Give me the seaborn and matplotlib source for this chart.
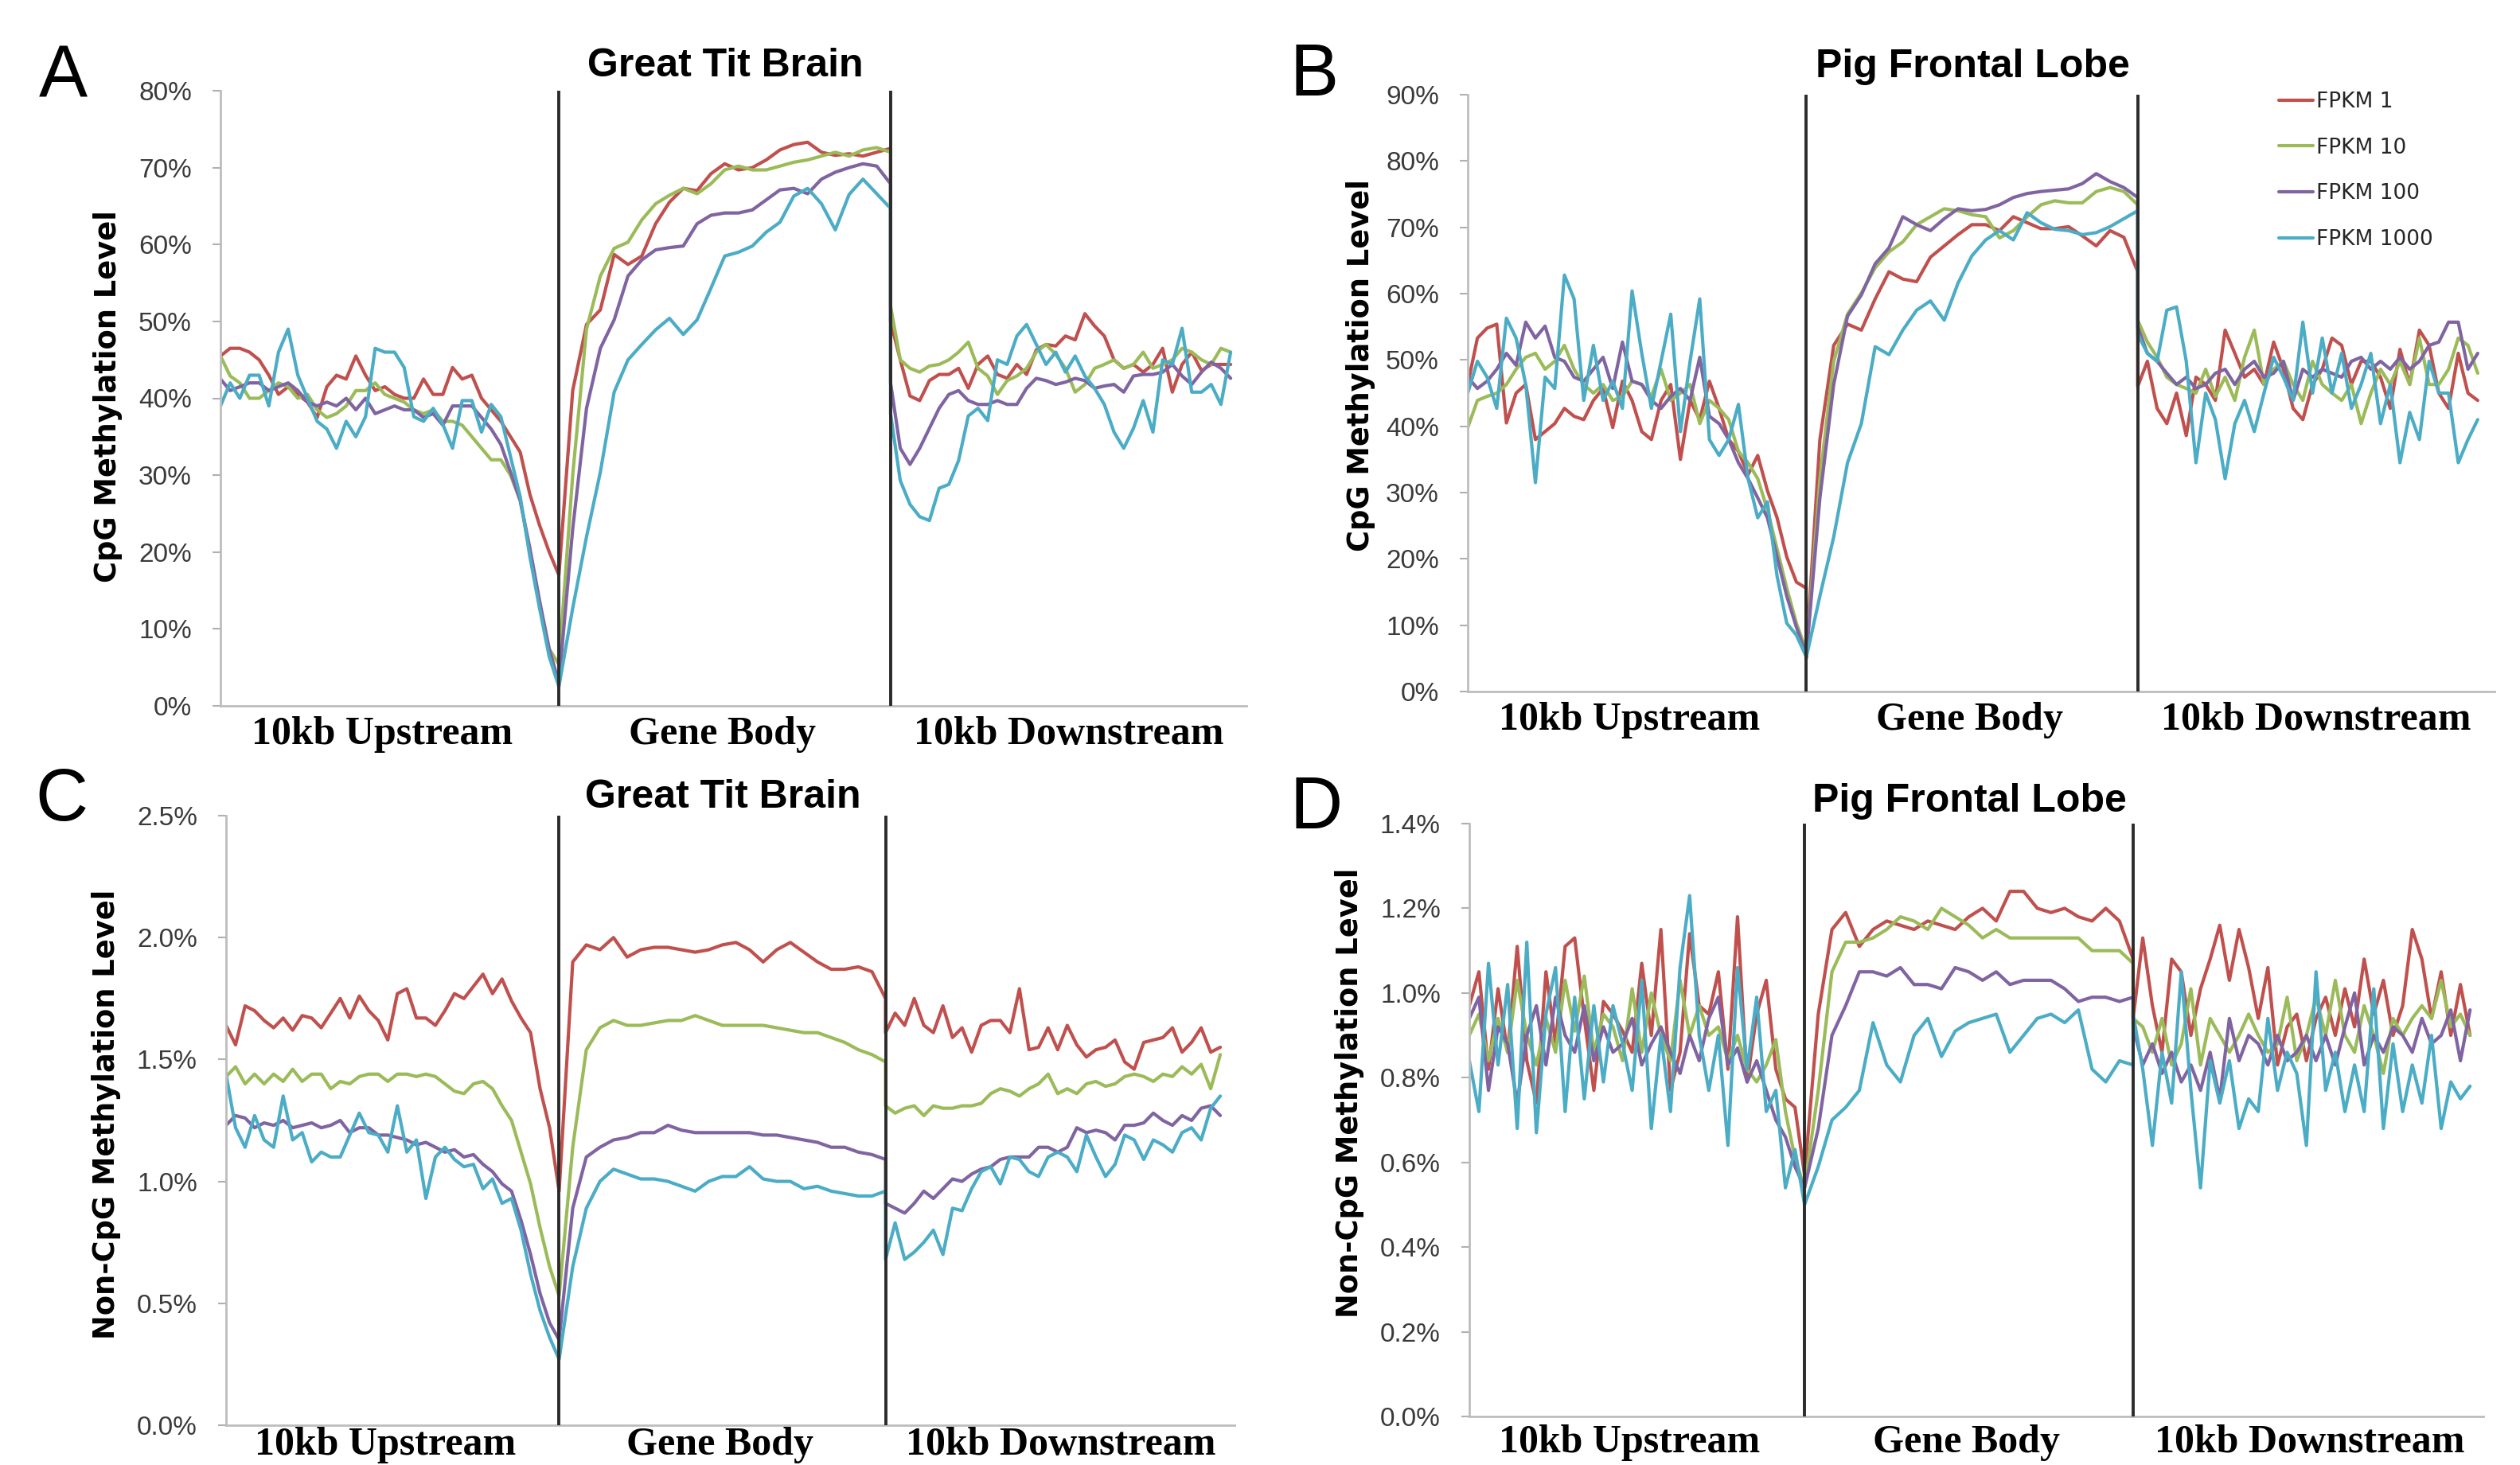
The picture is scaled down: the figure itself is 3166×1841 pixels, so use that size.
import numpy as np
import pandas as pd
import matplotlib
matplotlib.use("Agg")
import matplotlib.pyplot as plt
import matplotlib.transforms as mtransforms
from matplotlib.lines import Line2D
from matplotlib.ticker import FuncFormatter
import seaborn as sns

sns.set_style("white")
plt.rcParams['font.family'] = ['Liberation Sans', 'DejaVu Sans']

# ---------------- data ----------------
SERIES = ['FPKM 1', 'FPKM 10', 'FPKM 100', 'FPKM 1000']
COLORS = ['#C0504D', '#9BBB59', '#8064A2', '#4BACC6']
REGIONS = ['10kb Upstream', 'Gene Body', '10kb Downstream']

# Panel A: Great Tit Brain, CpG (%)
a_up_r = [45.5, 46.5, 46.5, 46, 45, 43, 40.5, 41.5, 40.5, 39.5, 37.5, 41.5, 43, 42.5, 45.5, 43, 41, 41.5, 40.5, 40, 40, 42.5, 40.5, 40.5, 44, 42.5, 43, 40, 38.5, 37, 35, 33, 27.5, 23.5, 20, 17]
a_up_g = [45.5, 42.9, 42, 40, 40, 41, 42, 41.5, 40, 40.5, 38.5, 37.5, 38, 39, 41, 41, 42, 40.5, 40, 39.5, 38.5, 38, 38.5, 37, 37, 36.5, 35, 33.5, 32, 32, 30, 26.7, 20, 13, 7.4, 5.4]
a_up_p = [42.5, 41, 41.5, 42, 42, 41, 41.5, 42, 41, 39.5, 39, 39.5, 39, 40, 38.5, 40, 38, 38.5, 39, 38.5, 38.5, 37.5, 38, 36.5, 39, 39, 39, 37.5, 36, 34, 30.4, 26.7, 20.5, 13.7, 7.4, 3]
a_up_c = [39, 42, 40, 43, 43, 39, 46, 49, 43, 40, 37, 36, 33.5, 37, 35, 37.6, 46.5, 46, 46, 44, 37.6, 37, 38.7, 36.6, 33.5, 39.7, 39.7, 35.6, 39.2, 37.6, 32.4, 27.2, 19.4, 12.7, 6.4, 2.5]
a_body_r = [17, 41, 49.6, 51.5, 58.7, 57.4, 58.5, 62.7, 65.5, 67.3, 67, 69.2, 70.5, 69.7, 70, 71, 72.3, 73, 73.3, 72, 71.6, 71.8, 71.5, 72, 72.5]
a_body_g = [5.4, 30, 49, 55.9, 59.5, 60.3, 63.2, 65.3, 66.4, 67.3, 66.6, 67.9, 69.7, 70.2, 69.7, 69.7, 70.2, 70.7, 71, 71.5, 72, 71.5, 72.3, 72.6, 72]
a_body_p = [3, 23, 38.7, 46.5, 50.2, 55.9, 58, 59.3, 59.6, 59.8, 62.7, 63.8, 64.1, 64.1, 64.5, 65.8, 67.1, 67.3, 66.6, 68.5, 69.4, 70, 70.5, 70.2, 67.9]
a_body_c = [2.5, 12.7, 22, 30.4, 40.8, 45, 47, 48.9, 50.4, 48.3, 50.2, 54.3, 58.5, 59, 59.8, 61.6, 62.9, 66.3, 67.3, 65.3, 61.9, 66.5, 68.5, 66.6, 64.7]
a_down_r = [50, 45, 40.3, 39.7, 42.3, 43.1, 43.1, 43.9, 41.3, 44.4, 45.5, 43.1, 42.6, 44.4, 43.1, 46.3, 47, 46.8, 48.1, 47.6, 51, 49.4, 48.1, 45, 43.9, 44.4, 43.4, 44.4, 46.5, 40.8, 44.4, 46, 43.6, 44.4, 44.4, 44.4]
a_down_g = [52, 45, 43.9, 43.4, 44.2, 44.4, 45, 46, 47.3, 43.9, 42.9, 40.5, 42.3, 42.9, 43.9, 46, 47, 45.7, 43.9, 40.8, 41.8, 43.9, 44.4, 45, 43.9, 44.4, 46, 43.9, 44.4, 45, 46.5, 46, 45, 44.4, 46.5, 46]
a_down_p = [42, 33.5, 31.4, 33.5, 36.1, 38.7, 40.5, 41, 39.7, 39.2, 39.2, 39.7, 39.2, 39.2, 41.3, 42.6, 42.3, 41.8, 42.1, 42.6, 42.3, 41.3, 41.6, 41.8, 40.8, 42.9, 43.1, 43.1, 43.4, 44.4, 42.9, 41.8, 43.4, 44.7, 43.9, 42.6]
a_down_c = [38, 29.3, 26.2, 24.6, 24.1, 28.3, 28.8, 31.9, 37.7, 38.7, 37.1, 45, 44.4, 48.1, 49.6, 47, 44.4, 46, 43.4, 45.5, 42.9, 41.3, 39.2, 35.6, 33.5, 36.1, 39.7, 35.6, 45, 44.4, 49.1, 40.8, 40.8, 41.8, 39.2, 46]

# Panel B: Pig Frontal Lobe, CpG (%)
b_up_r = [46.3, 53.3, 54.8, 55.4, 40.5, 45, 46.3, 38, 39.2, 40.4, 42.7, 41.5, 41, 43.9, 45.7, 39.8, 46.8, 43.9, 39.2, 38, 43.9, 46.3, 35, 43.9, 41, 46.8, 42.7, 38, 36.2, 32.7, 35.6, 30.3, 26.2, 20.3, 16.5, 15.6]
b_up_g = [39.8, 43.9, 44.5, 45, 46.3, 48.6, 50.4, 51, 48.6, 49.8, 52.2, 48.6, 46.3, 45, 46.3, 43.9, 44.5, 46.8, 46.3, 44.5, 48.6, 43.9, 45, 46.3, 40.4, 43.9, 42.7, 41, 36.2, 34.5, 32.1, 27.4, 21.5, 15.6, 10.3, 6.2]
b_up_p = [47.4, 45.7, 46.8, 48.6, 51, 49.2, 55.7, 53.3, 55.1, 50.4, 49.8, 47.4, 46.8, 48.6, 50.4, 45.7, 52.7, 46.8, 46.3, 43.9, 42.7, 44.5, 45.7, 43.9, 50.4, 41.5, 40.4, 38, 34.5, 32.1, 29.2, 26.2, 20.3, 14.4, 9.7, 5.6]
b_up_c = [45, 49.8, 47.4, 42.7, 56.3, 53.3, 46.3, 31.5, 47.4, 45.7, 62.8, 59.2, 43.9, 52.2, 43.9, 46.8, 42.7, 60.4, 51, 42.7, 49.8, 56.9, 39.2, 49.8, 59.2, 38, 35.6, 38, 43.3, 32.1, 26.2, 28.6, 17.4, 10.3, 8.5, 5.3]
b_body_r = [5, 38, 52.2, 55.4, 54.5, 59.2, 63.3, 62.2, 61.8, 65.5, 67.2, 68.9, 70.4, 70.4, 69.5, 71.6, 70.7, 69.8, 69.8, 70.1, 68.7, 67.2, 69.5, 68.5, 63.3]
b_body_g = [5, 32.1, 49.8, 56.9, 60.1, 63.9, 66.3, 67.8, 70.4, 71.6, 72.8, 72.5, 71.9, 71.6, 68.4, 69.5, 71.6, 73.4, 74, 73.7, 73.7, 75.4, 76, 75.4, 73.4]
b_body_p = [5, 29.2, 46.3, 56.6, 59.8, 64.5, 66.9, 71.6, 70.4, 69.5, 71.3, 72.8, 72.5, 72.7, 73.4, 74.5, 75.1, 75.4, 75.6, 75.8, 76.6, 78.1, 76.9, 76, 74.5]
b_body_c = [5, 14.4, 23.3, 34.5, 40.4, 52, 50.8, 54.5, 57.5, 58.9, 56, 61.6, 65.7, 68.1, 69.5, 68.1, 72.2, 70.7, 69.7, 69.5, 68.9, 69.2, 70.1, 71.3, 72.5]
b_down_r = [46, 49.8, 42.7, 40.4, 45, 38.6, 47.4, 46.3, 43.9, 54.5, 51, 47.4, 48.6, 46.3, 52.7, 48.6, 42.7, 41, 46.3, 48.6, 53.3, 52.2, 46.3, 49.8, 49.8, 47.4, 42.7, 51.6, 46.3, 54.5, 52.2, 45, 42.7, 51, 45, 43.9]
b_down_g = [56, 52.7, 50.4, 47.4, 46.3, 45.7, 45, 48.6, 44.5, 47.4, 43.9, 50.4, 54.5, 46.3, 48.6, 49.8, 46.3, 43.9, 49.8, 46.3, 45, 43.9, 46.3, 40.4, 45, 48.6, 46.3, 49.8, 46.3, 53.3, 46.3, 46.3, 48.6, 53.3, 52.2, 48]
b_down_p = [55, 51, 49.8, 48, 46.3, 47.4, 45.7, 46.3, 48, 48.6, 46.3, 48.6, 49.8, 47.4, 48, 49.8, 43.9, 48.6, 47.4, 48.6, 48, 47.4, 49.8, 50.4, 48.6, 49.8, 48.6, 50.4, 48.6, 49.8, 52.2, 52.7, 55.7, 55.7, 48.6, 51]
b_down_c = [53.9, 51, 49.8, 57.5, 58, 49.8, 34.5, 45, 41, 32.1, 40.4, 43.9, 39.2, 45, 50.4, 47.4, 43.9, 55.7, 45, 53.3, 45, 51, 42.7, 46.3, 51, 40.4, 46.3, 34.5, 42.1, 38, 49.8, 45, 45, 34.5, 38, 41]

# Panel C: Great Tit Brain, non-CpG (%)
c_up_r = [1.64, 1.56, 1.72, 1.70, 1.66, 1.63, 1.67, 1.62, 1.68, 1.67, 1.63, 1.69, 1.75, 1.67, 1.76, 1.70, 1.66, 1.58, 1.77, 1.79, 1.67, 1.67, 1.64, 1.70, 1.77, 1.75, 1.80, 1.85, 1.77, 1.83, 1.74, 1.67, 1.61, 1.38, 1.22, 0.96]
c_up_g = [1.43, 1.47, 1.40, 1.44, 1.40, 1.44, 1.41, 1.46, 1.41, 1.44, 1.44, 1.38, 1.41, 1.40, 1.43, 1.44, 1.44, 1.41, 1.44, 1.44, 1.43, 1.44, 1.43, 1.40, 1.37, 1.36, 1.40, 1.41, 1.38, 1.31, 1.25, 1.12, 0.99, 0.81, 0.65, 0.53]
c_up_p = [1.23, 1.27, 1.26, 1.22, 1.24, 1.23, 1.25, 1.22, 1.23, 1.24, 1.22, 1.23, 1.25, 1.20, 1.22, 1.22, 1.19, 1.19, 1.18, 1.17, 1.15, 1.16, 1.14, 1.12, 1.13, 1.10, 1.11, 1.07, 1.04, 0.99, 0.96, 0.84, 0.70, 0.54, 0.42, 0.35]
c_up_c = [1.44, 1.22, 1.14, 1.27, 1.17, 1.14, 1.35, 1.17, 1.20, 1.08, 1.12, 1.10, 1.10, 1.19, 1.28, 1.20, 1.19, 1.12, 1.31, 1.12, 1.17, 0.93, 1.10, 1.14, 1.09, 1.06, 1.07, 0.97, 1.01, 0.91, 0.93, 0.80, 0.62, 0.47, 0.36, 0.27]
c_body_r = [0.96, 1.90, 1.97, 1.95, 2.00, 1.92, 1.95, 1.96, 1.96, 1.95, 1.94, 1.95, 1.97, 1.98, 1.95, 1.90, 1.95, 1.98, 1.94, 1.90, 1.87, 1.87, 1.88, 1.86, 1.75]
c_body_g = [0.53, 1.14, 1.54, 1.63, 1.66, 1.64, 1.64, 1.65, 1.66, 1.66, 1.68, 1.66, 1.64, 1.64, 1.64, 1.64, 1.63, 1.62, 1.61, 1.61, 1.59, 1.57, 1.54, 1.52, 1.49]
c_body_p = [0.35, 0.89, 1.10, 1.14, 1.17, 1.18, 1.20, 1.20, 1.23, 1.21, 1.20, 1.20, 1.20, 1.20, 1.20, 1.19, 1.19, 1.18, 1.17, 1.16, 1.14, 1.14, 1.12, 1.11, 1.09]
c_body_c = [0.27, 0.65, 0.89, 1.00, 1.05, 1.03, 1.01, 1.01, 1.00, 0.98, 0.96, 1.00, 1.02, 1.02, 1.06, 1.01, 1.00, 1.00, 0.97, 0.98, 0.96, 0.95, 0.94, 0.94, 0.96]
c_down_r = [1.61, 1.69, 1.64, 1.75, 1.64, 1.61, 1.72, 1.59, 1.63, 1.53, 1.64, 1.66, 1.66, 1.61, 1.79, 1.54, 1.55, 1.63, 1.54, 1.64, 1.56, 1.51, 1.54, 1.55, 1.58, 1.49, 1.46, 1.57, 1.58, 1.59, 1.63, 1.53, 1.57, 1.63, 1.53, 1.55]
c_down_g = [1.31, 1.28, 1.30, 1.31, 1.27, 1.31, 1.30, 1.30, 1.31, 1.31, 1.32, 1.36, 1.38, 1.37, 1.35, 1.38, 1.40, 1.44, 1.36, 1.38, 1.36, 1.40, 1.41, 1.39, 1.40, 1.43, 1.44, 1.43, 1.41, 1.44, 1.43, 1.47, 1.44, 1.48, 1.38, 1.52]
c_down_p = [0.91, 0.89, 0.87, 0.91, 0.96, 0.93, 0.97, 1.01, 1.00, 1.03, 1.05, 1.06, 1.09, 1.10, 1.10, 1.10, 1.14, 1.14, 1.12, 1.14, 1.22, 1.20, 1.21, 1.20, 1.17, 1.23, 1.23, 1.24, 1.28, 1.25, 1.23, 1.27, 1.25, 1.30, 1.31, 1.27]
c_down_c = [0.68, 0.83, 0.68, 0.71, 0.75, 0.80, 0.70, 0.89, 0.88, 0.97, 1.04, 1.06, 0.99, 1.10, 1.09, 1.04, 1.02, 1.10, 1.12, 1.10, 1.04, 1.19, 1.10, 1.02, 1.07, 1.19, 1.17, 1.09, 1.17, 1.15, 1.12, 1.20, 1.22, 1.17, 1.30, 1.35]

# Panel D: Pig Frontal Lobe, non-CpG (%)
d_up_r = [0.97, 1.05, 0.82, 1.01, 0.86, 1.11, 0.84, 0.74, 1.05, 0.88, 1.11, 1.13, 0.94, 0.77, 0.98, 0.95, 0.91, 0.86, 1.07, 0.90, 1.15, 0.77, 0.86, 1.14, 0.97, 0.95, 1.05, 0.82, 1.18, 0.79, 0.95, 1.03, 0.82, 0.75, 0.73, 0.57]
d_up_g = [0.90, 0.95, 0.84, 0.94, 0.86, 1.03, 0.90, 0.83, 0.94, 0.86, 1.03, 0.91, 1.04, 0.86, 0.95, 0.92, 0.84, 1.01, 0.86, 1.00, 0.90, 0.84, 1.03, 0.90, 0.97, 0.90, 0.92, 0.84, 0.90, 0.82, 0.79, 0.83, 0.89, 0.72, 0.61, 0.54]
d_up_p = [0.94, 0.99, 0.77, 0.92, 0.88, 0.74, 0.90, 0.97, 0.83, 0.99, 0.90, 0.86, 0.97, 0.84, 0.92, 0.86, 0.88, 0.94, 0.83, 0.88, 0.92, 0.86, 0.81, 0.90, 0.84, 0.94, 0.99, 0.83, 0.87, 0.79, 0.84, 0.77, 0.70, 0.66, 0.59, 0.54]
d_up_c = [0.84, 0.72, 1.07, 0.83, 1.02, 0.68, 1.12, 0.67, 0.95, 1.06, 0.72, 0.99, 0.75, 0.97, 0.79, 0.97, 0.88, 0.77, 1.03, 0.68, 0.90, 0.72, 1.06, 1.23, 0.90, 0.77, 0.90, 0.64, 1.06, 0.82, 0.99, 0.72, 0.77, 0.54, 0.63, 0.50]
d_body_r = [0.57, 0.95, 1.15, 1.19, 1.11, 1.15, 1.17, 1.16, 1.15, 1.17, 1.16, 1.15, 1.18, 1.20, 1.17, 1.24, 1.24, 1.20, 1.19, 1.20, 1.18, 1.17, 1.20, 1.17, 1.08]
d_body_g = [0.54, 0.77, 1.05, 1.12, 1.12, 1.13, 1.15, 1.18, 1.17, 1.15, 1.20, 1.18, 1.16, 1.13, 1.15, 1.13, 1.13, 1.13, 1.13, 1.13, 1.13, 1.10, 1.10, 1.10, 1.07]
d_body_p = [0.54, 0.68, 0.90, 0.97, 1.05, 1.05, 1.04, 1.06, 1.02, 1.02, 1.01, 1.06, 1.05, 1.03, 1.05, 1.02, 1.03, 1.03, 1.03, 1.01, 0.98, 0.99, 0.99, 0.98, 0.99]
d_body_c = [0.50, 0.59, 0.70, 0.73, 0.77, 0.93, 0.83, 0.79, 0.90, 0.94, 0.85, 0.91, 0.93, 0.94, 0.95, 0.86, 0.90, 0.94, 0.95, 0.93, 0.96, 0.82, 0.79, 0.84, 0.83]
d_down_r = [0.94, 1.13, 0.97, 0.86, 1.08, 1.05, 0.90, 1.01, 1.08, 1.16, 1.03, 1.15, 1.06, 0.94, 1.06, 0.83, 0.92, 0.95, 0.84, 0.94, 0.99, 0.90, 1.01, 0.92, 1.08, 0.95, 1.03, 0.90, 0.97, 1.15, 1.08, 0.94, 1.05, 0.90, 1.02, 0.90]
d_down_g = [0.94, 0.92, 0.86, 0.94, 0.83, 0.88, 1.01, 0.83, 0.94, 0.90, 0.86, 0.90, 0.95, 0.90, 0.86, 0.88, 0.99, 0.84, 0.90, 0.99, 0.90, 1.03, 0.90, 0.86, 0.97, 0.90, 0.81, 0.94, 0.90, 0.94, 0.97, 0.94, 1.03, 0.92, 0.95, 0.90]
d_down_p = [0.92, 0.83, 0.88, 0.81, 0.86, 0.79, 0.83, 0.77, 0.86, 0.75, 0.94, 0.84, 0.90, 0.88, 0.83, 0.90, 0.84, 0.86, 0.90, 0.84, 0.90, 0.83, 0.92, 1.00, 0.83, 0.90, 0.86, 0.92, 0.90, 0.86, 0.94, 0.88, 0.90, 0.96, 0.84, 0.96]
d_down_c = [0.95, 0.82, 0.64, 0.86, 0.74, 1.05, 0.77, 0.54, 0.84, 0.74, 0.84, 0.68, 0.75, 0.72, 0.94, 0.77, 0.86, 0.81, 0.64, 1.05, 0.77, 0.86, 0.72, 0.83, 0.72, 1.01, 0.68, 0.88, 0.72, 0.83, 0.74, 0.90, 0.68, 0.79, 0.75, 0.78]

# ---------------- layout ----------------
W, H = 3166, 1841
TSS, TES, END = 100.5, 199.0, 300.0

panels = [
    dict(letter='A', title='Great Tit Brain', ylabel='CpG Methylation Level',
         box=(277, 114, 1566, 887), xmax=304.7, ymax=80, step=10, fmt='{:.0f}%',
         up=[a_up_r, a_up_g, a_up_p, a_up_c], body=[a_body_r, a_body_g, a_body_p, a_body_c],
         down=[a_down_r, a_down_g, a_down_p, a_down_c], xpad=9,
         title_y=1.023, letter_xy=(49, 123), ylab_xy=(136, 498)),
    dict(letter='B', title='Pig Frontal Lobe', ylabel='CpG Methylation Level',
         box=(1844, 119, 3134, 869), xmax=305.0, ymax=90, step=10, fmt='{:.0f}%',
         up=[b_up_r, b_up_g, b_up_p, b_up_c], body=[b_body_r, b_body_g, b_body_p, b_body_c],
         down=[b_down_r, b_down_g, b_down_p, b_down_c], xpad=9,
         title_y=1.029, letter_xy=(1621, 120), ylab_xy=(1710, 459)),
    dict(letter='C', title='Great Tit Brain', ylabel='Non-CpG Methylation Level',
         box=(284, 1025, 1551, 1791), xmax=304.3, ymax=2.5, step=0.5, fmt='{:.1f}%',
         up=[c_up_r, c_up_g, c_up_p, c_up_c], body=[c_body_r, c_body_g, c_body_p, c_body_c],
         down=[c_down_r, c_down_g, c_down_p, c_down_c], xpad=1.5,
         title_y=1.013, letter_xy=(44, 1031), ylab_xy=(134, 1400)),
    dict(letter='D', title='Pig Frontal Lobe', ylabel='Non-CpG Methylation Level',
         box=(1846, 1035, 3120, 1780), xmax=304.0, ymax=1.4, step=0.2, fmt='{:.1f}%',
         up=[d_up_r, d_up_g, d_up_p, d_up_c], body=[d_body_r, d_body_g, d_body_p, d_body_c],
         down=[d_down_r, d_down_g, d_down_p, d_down_c], xpad=7,
         title_y=1.020, letter_xy=(1621, 1041), ylab_xy=(1695, 1373)),
]

fig = plt.figure(figsize=(W / 100, H / 100), dpi=100)
fig.patch.set_facecolor('white')

REGION_X = [48, 149, 252]
LINE_W = 3.0

for p in panels:
    l, t, r, b = p['box']
    ax = fig.add_axes([l / W, 1 - b / H, (r - l) / W, (b - t) / H])

    rows = []
    for name, u, bd, dn in zip(SERIES, p['up'], p['body'], p['down']):
        xs = np.concatenate([np.linspace(0, TSS, len(u)),
                             np.linspace(TSS, TES, len(bd)),
                             np.linspace(TES, END, len(dn))])
        ys = np.concatenate([u, bd, dn])
        for i, (xv, yv) in enumerate(zip(xs, ys)):
            rows.append((name, i, xv, yv))
    df = pd.DataFrame(rows, columns=['series', 'idx', 'x', 'y'])

    sns.lineplot(data=df, x='x', y='y', hue='series', hue_order=SERIES,
                 palette=COLORS, estimator=None, sort=False, ax=ax,
                 linewidth=LINE_W, legend=False)
    for ln in ax.get_lines():
        ln.set_solid_joinstyle('round')
        ln.set_solid_capstyle('round')

    for xv in (TSS, TES):
        ax.axvline(xv, color='#2b2b2b', lw=2.8, zorder=5)

    ax.set_xlim(0, p['xmax'])
    ax.set_ylim(0, p['ymax'])
    ticks = np.round(np.arange(0, p['ymax'] + p['step'] / 2, p['step']), 4)
    ax.set_yticks(ticks)
    fmt = p['fmt']
    ax.yaxis.set_major_formatter(FuncFormatter(lambda v, pos, fmt=fmt: fmt.format(v)))
    ax.set_xticks(REGION_X)
    ax.set_xticklabels(REGIONS, fontfamily='Liberation Serif', fontweight='bold',
                       fontsize=36, color='black')
    ax.tick_params(axis='x', length=0, pad=p['xpad'])
    ax.tick_params(axis='y', length=7, width=1.5, color='#B0B0B0', direction='out',
                   pad=19, labelsize=24, labelcolor='#3a3a3a', left=True)
    ax.set_xlabel('')
    ax.set_ylabel('')
    for side in ('top', 'right'):
        ax.spines[side].set_visible(False)
    for side in ('left', 'bottom'):
        ax.spines[side].set_color('#BDBDBD')
        ax.spines[side].set_linewidth(2.0)
    ax.grid(False)

    trans = mtransforms.blended_transform_factory(ax.transData, ax.transAxes)
    ax.text(150, p['title_y'], p['title'], transform=trans, ha='center', va='baseline',
            fontsize=36, fontweight='bold', color='black')

    lx, ly = p['letter_xy']
    fig.text(lx / W, 1 - ly / H, p['letter'], fontsize=66, ha='left', va='baseline',
             color='black')
    yx, yy = p['ylab_xy']
    fig.text(yx / W, 1 - yy / H, p['ylabel'], rotation=90, ha='center', va='center',
             fontsize=26.5, fontweight='bold', fontfamily='DejaVu Sans', color='black')

    if p['letter'] == 'B':
        handles = [Line2D([0], [0], color=c, lw=LINE_W) for c in COLORS]
        ax.legend(handles, SERIES, loc='upper left',
                  bbox_to_anchor=(2863 / W, 1 - 115 / H), bbox_transform=fig.transFigure,
                  frameon=False, prop={'family': 'DejaVu Sans', 'size': 19},
                  handlelength=1.63, handletextpad=0.15, labelspacing=1.2,
                  borderpad=0, borderaxespad=0)

fig.savefig('out.png', dpi=100, facecolor='white')
